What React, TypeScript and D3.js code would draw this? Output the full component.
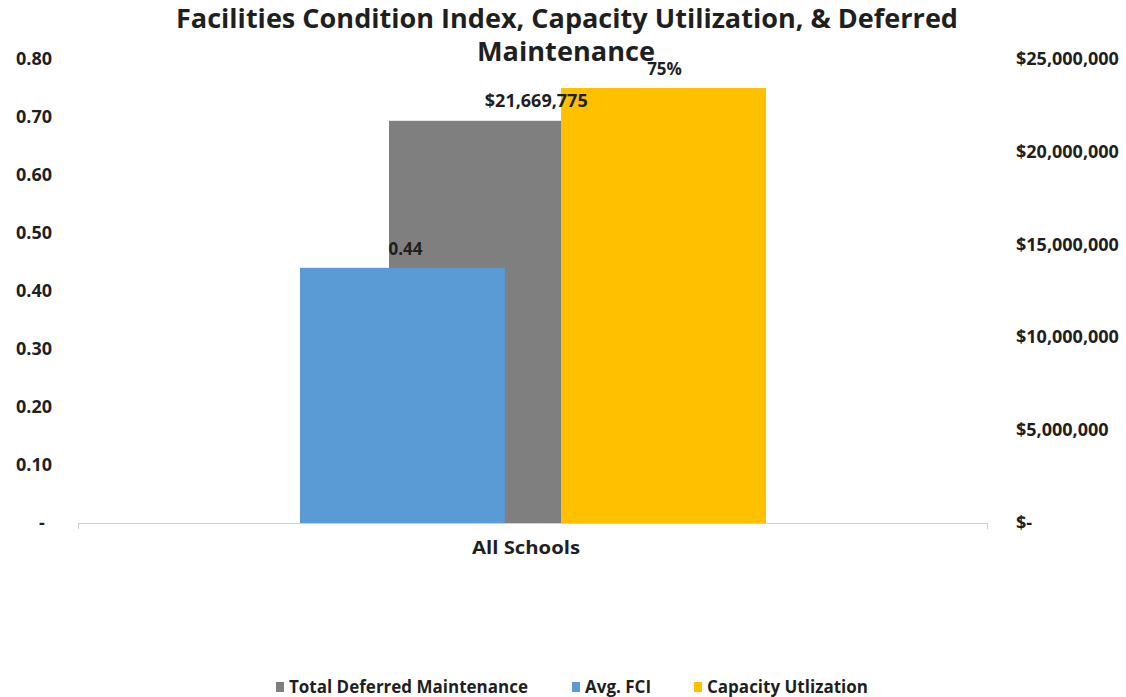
import React from "react";
import * as d3 from "d3";

const categories = ["All Schools"];
const primarySeries = ["Avg. FCI", "Capacity Utlization"];
const fciValues = [0.44];
const capacityValues = [0.75];
const deferredValues = [21669775];
const leftTicks = [0, 0.1, 0.2, 0.3, 0.4, 0.5, 0.6, 0.7, 0.8];
const rightTicks = [0, 5000000, 10000000, 15000000, 20000000, 25000000];
const legendItems = [
  { name: "Total Deferred Maintenance", color: "#7f7f7f" },
  { name: "Avg. FCI", color: "#5b9bd5" },
  { name: "Capacity Utlization", color: "#ffc000" },
];

const W = 1126;
const H = 697;
const FONT = "'Open Sans', 'Liberation Sans', sans-serif";
const TXT = "#1f1f1f";

export default function App() {
  const plotLeft = 78;
  const plotRight = 988;
  const plotTop = 59;
  const plotBottom = 523;

  const x0 = d3.scaleBand<string>().domain(categories).range([plotLeft, plotRight]);
  const yL = d3.scaleLinear().domain([0, 0.8]).range([plotBottom, plotTop]);
  const yR = d3.scaleLinear().domain([0, 25000000]).range([plotBottom, plotTop]);

  const leftFmt = (v: number) => (v === 0 ? "-" : d3.format(".2f")(v));
  const rightFmt = (v: number) => (v === 0 ? "$-" : "$" + d3.format(",")(v));

  return (
    <svg width={W} height={H} style={{ position: "absolute", left: 0, top: 0, fontFamily: FONT }}>
      <rect width={W} height={H} fill="#fff" />
      {/* Title */}
      <text x={567} y={28} textAnchor="middle" fontSize={27} fontWeight="bold" fill={TXT} textLength={782} lengthAdjust="spacingAndGlyphs">
        Facilities Condition Index, Capacity Utilization, &amp; Deferred
      </text>
      <text x={566} y={61} textAnchor="middle" fontSize={27} fontWeight="bold" fill={TXT} textLength={178} lengthAdjust="spacingAndGlyphs">
        Maintenance
      </text>

      {/* Left axis labels */}
      {leftTicks.map((t) => (
        <text key={"l" + t} x={t === 0 ? 42 : 16} y={yL(t) + 6} textAnchor={t === 0 ? "middle" : "start"} fontSize={18} fontWeight="bold" fill={TXT}>
          {leftFmt(t)}
        </text>
      ))}
      {/* Right axis labels */}
      {rightTicks.map((t) => (
        <text key={"r" + t} x={1016} y={yR(t) + 6} textAnchor="start" fontSize={18} fontWeight="bold" fill={TXT}>
          {rightFmt(t)}
        </text>
      ))}

      {/* Bars */}
      {categories.map((c, i) => {
        const cx = (x0(c) as number) + x0.bandwidth() / 2;
        const xP = d3.scaleBand<string>().domain(primarySeries).range([cx - 233, cx + 233]).paddingInner(0.215);
        const xS = d3.scaleBand<string>().domain(["Total Deferred Maintenance"]).range([cx - 144, cx + 28.5]);
        const gx = xS("Total Deferred Maintenance") as number;
        const bx = xP("Avg. FCI") as number;
        const yx = xP("Capacity Utlization") as number;
        return (
          <g key={c}>
            <rect x={gx} y={yR(deferredValues[i])} width={xS.bandwidth()} height={plotBottom - yR(deferredValues[i])} fill="#7f7f7f" />
            <rect x={bx} y={yL(fciValues[i])} width={xP.bandwidth()} height={plotBottom - yL(fciValues[i])} fill="#5b9bd5" />
            <rect x={yx} y={yL(capacityValues[i])} width={xP.bandwidth()} height={plotBottom - yL(capacityValues[i])} fill="#ffc000" />
            <text x={bx + xP.bandwidth() / 2 + 3} y={yL(fciValues[i]) - 13} textAnchor="middle" fontSize={17} fontWeight="bold" fill={TXT}>
              {d3.format(".2f")(fciValues[i])}
            </text>
            <text x={gx + xS.bandwidth() / 2 + 61} y={yR(deferredValues[i]) - 14} textAnchor="middle" fontSize={18} fontWeight="bold" fill={TXT}>
              {"$" + d3.format(",")(deferredValues[i])}
            </text>
            <text x={yx + xP.bandwidth() / 2 + 1} y={yL(capacityValues[i]) - 13} textAnchor="middle" fontSize={17} fontWeight="bold" fill={TXT}>
              {d3.format(".0%")(capacityValues[i])}
            </text>
            <text x={cx - 7} y={554} textAnchor="middle" fontSize={18} fontWeight="bold" fill={TXT} textLength={108} lengthAdjust="spacingAndGlyphs">
              {c}
            </text>
          </g>
        );
      })}

      {/* Category axis */}
      <line x1={plotLeft} x2={plotRight} y1={plotBottom + 0.5} y2={plotBottom + 0.5} stroke="#d0d0d0" strokeWidth={1} />
      <line x1={plotLeft + 0.5} x2={plotLeft + 0.5} y1={plotBottom} y2={plotBottom + 6} stroke="#d0d0d0" />
      <line x1={plotRight - 0.5} x2={plotRight - 0.5} y1={plotBottom} y2={plotBottom + 6} stroke="#d0d0d0" />

      {/* Legend */}
      {(() => {
        const xs = [276, 572, 694];
        return legendItems.map((d, i) => (
          <g key={d.name}>
            <rect x={xs[i]} y={682} width={8} height={10} fill={d.color} />
            <text x={xs[i] + 13} y={693} fontSize={17} fontWeight="bold" fill={TXT}>
              {d.name}
            </text>
          </g>
        ));
      })()}
    </svg>
  );
}
